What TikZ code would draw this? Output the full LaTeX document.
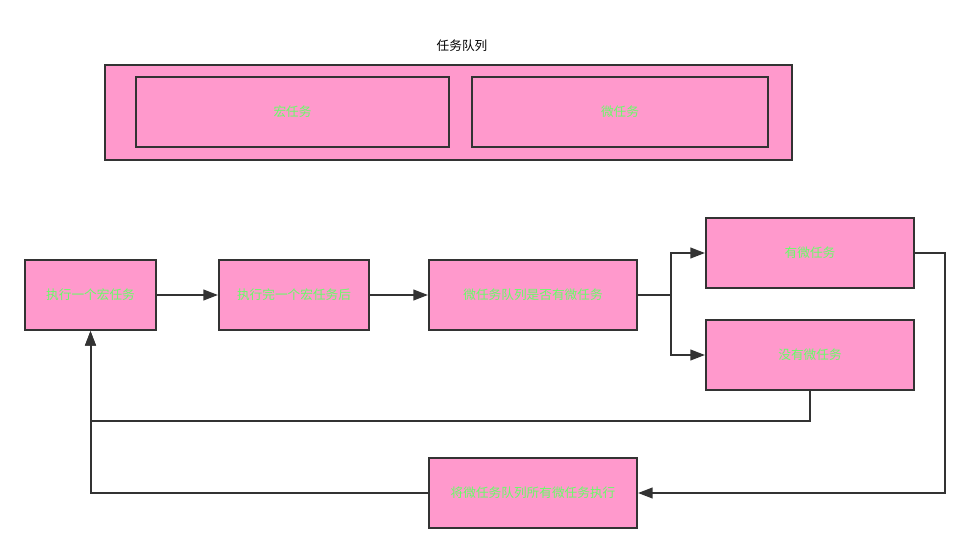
\documentclass[tikz,border=0pt]{standalone}
\usepackage{fontspec}
\newfontfamily\cjk{Noto Sans CJK SC}
\usetikzlibrary{arrows.meta}
\definecolor{boxpink}{HTML}{FF99CC}
\definecolor{boxline}{HTML}{333333}
\definecolor{textgreen}{HTML}{66FF66}
\begin{document}
\begin{tikzpicture}[x=0.75pt,y=-0.75pt]
\tikzstyle{block} = [rectangle, minimum width=156pt, minimum height=52.5pt, text centered, draw=boxline, fill=boxpink, line width=1.5pt, font=\cjk\fontsize{9.5}{11}\selectfont, text=textgreen]
\tikzstyle{arrow} = [line width=1.5pt, draw=boxline, -{Triangle[length=11pt,width=8pt]}]
\tikzstyle{line} = [line width=1.5pt, draw=boxline]
%
\useasboundingbox (0,0) rectangle (968,553);
\fill[white] (0,0) rectangle (968,553);
%
\node (title) at (462,46) [font=\cjk\fontsize{9.5}{11}\selectfont] {任务队列};
\node (queue) at (448.5,112.5) [block, minimum width=515.25pt, minimum height=71.25pt] {};
\node (macro) at (292.5,112) [block, minimum width=234.75pt] {宏任务};
\node (micro) at (620,112) [block, minimum width=222pt] {微任务};
%
\node (run-macro) at (90.5,295) [block, minimum width=98.25pt] {执行一个宏任务};
\node (after-macro) at (294,295) [block, minimum width=112.5pt] {执行完一个宏任务后};
\node (check) at (533,295) [block] {微任务队列是否有微任务};
\node (has-micro) at (810,253) [block] {有微任务};
\node (no-micro) at (810,355) [block] {没有微任务};
\node (run-micro) at (533,493) [block] {将微任务队列所有微任务执行};
\coordinate (split) at (671,295);
%
\draw [arrow] (run-macro) -- (after-macro);
\draw [arrow] (after-macro) -- (check);
\draw [line] (check) -- (split);
\draw [arrow] (split) |- (has-micro);
\draw [arrow] (split) |- (no-micro);
\draw [arrow] (has-micro.east) -- ++(30,0) |- (run-micro.east);
\draw [arrow] (no-micro.south) -- ++(0,30) -| (run-macro.south);
\draw [arrow] (run-micro.west) -| (run-macro.south);
\end{tikzpicture}
\end{document}
